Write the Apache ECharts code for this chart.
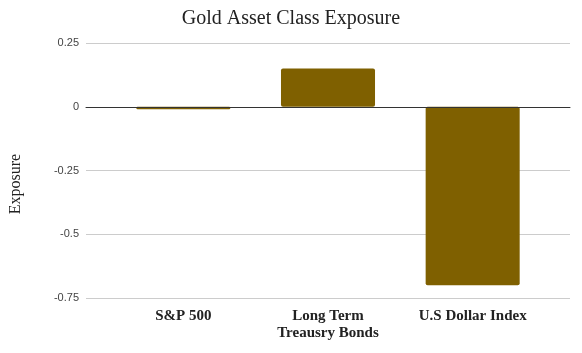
<!DOCTYPE html>
<html lang="en">
<head>
    <meta charset="UTF-8">
    <title>Gold Asset Class Exposure</title>
    <style>
        html, body { margin: 0; padding: 0; background: #fff; }
        #chart { width: 582px; height: 353px; }
    </style>
    <script src="https://cdn.jsdelivr.net/npm/echarts@6/dist/echarts.min.js"></script>
</head>
<body>
    <div id="chart"></div>
</body>
<script>
    var mCharts = echarts.init(document.getElementById('chart'));

    // categories and exposures
    var categories = ['S&P 500', 'Long Term\nTreausry Bonds', 'U.S Dollar Index'];
    var exposure = [-0.01, 0.15, -0.70];
    // y axis range
    var yMin = -0.75, yMax = 0.25, yStep = 0.25;

    var serif = '"Liberation Serif", "DejaVu Serif", serif';

    var option = {
        animation: false,
        title: {
            text: 'Gold Asset Class Exposure',
            left: 'center',
            top: 4,
            textStyle: { fontFamily: serif, fontWeight: 'normal', fontSize: 20, color: '#222' }
        },
        graphic: [{
            type: 'text',
            rotation: Math.PI / 2,
            style: { text: 'Exposure', font: '16px ' + serif, fill: '#222', align: 'center', verticalAlign: 'middle' },
            x: 16, y: 184
        }],
        // grid 0 holds bars, grid 1 holds the wider gridlines
        grid: [
            { left: 111, right: 37, top: 43, bottom: 55 },
            { left: 86, right: 12, top: 43, bottom: 55 }
        ],
        xAxis: [
            {
                type: 'category',
                gridIndex: 0,
                data: categories,
                axisLine: { show: false },
                axisTick: { show: false },
                axisLabel: {
                    margin: 10,
                    fontFamily: serif,
                    fontWeight: 'bold',
                    fontSize: 15,
                    lineHeight: 17,
                    color: '#222'
                }
            },
            {
                type: 'value',
                gridIndex: 1,
                min: 0, max: 1,
                z: 5,
                axisLine: { show: true, onZero: true, lineStyle: { color: '#333', width: 1 } },
                axisTick: { show: false },
                axisLabel: { show: false },
                splitLine: { show: false }
            }
        ],
        yAxis: [
            {
                type: 'value',
                gridIndex: 0,
                min: yMin, max: yMax, interval: yStep,
                show: false
            },
            {
                type: 'value',
                gridIndex: 1,
                min: yMin, max: yMax, interval: yStep,
                axisLine: { show: false },
                axisTick: { show: false },
                axisLabel: { margin: 7, fontFamily: '"Liberation Sans", Arial, sans-serif', fontSize: 11, color: '#444' },
                splitLine: { lineStyle: { color: '#ccc' } }
            }
        ],
        series: [{
            type: 'bar',
            xAxisIndex: 0,
            yAxisIndex: 0,
            data: exposure,
            barWidth: '65%',
            itemStyle: { color: '#7f6000', borderRadius: 2 }
        }]
    };
    mCharts.setOption(option);
</script>
</html>
